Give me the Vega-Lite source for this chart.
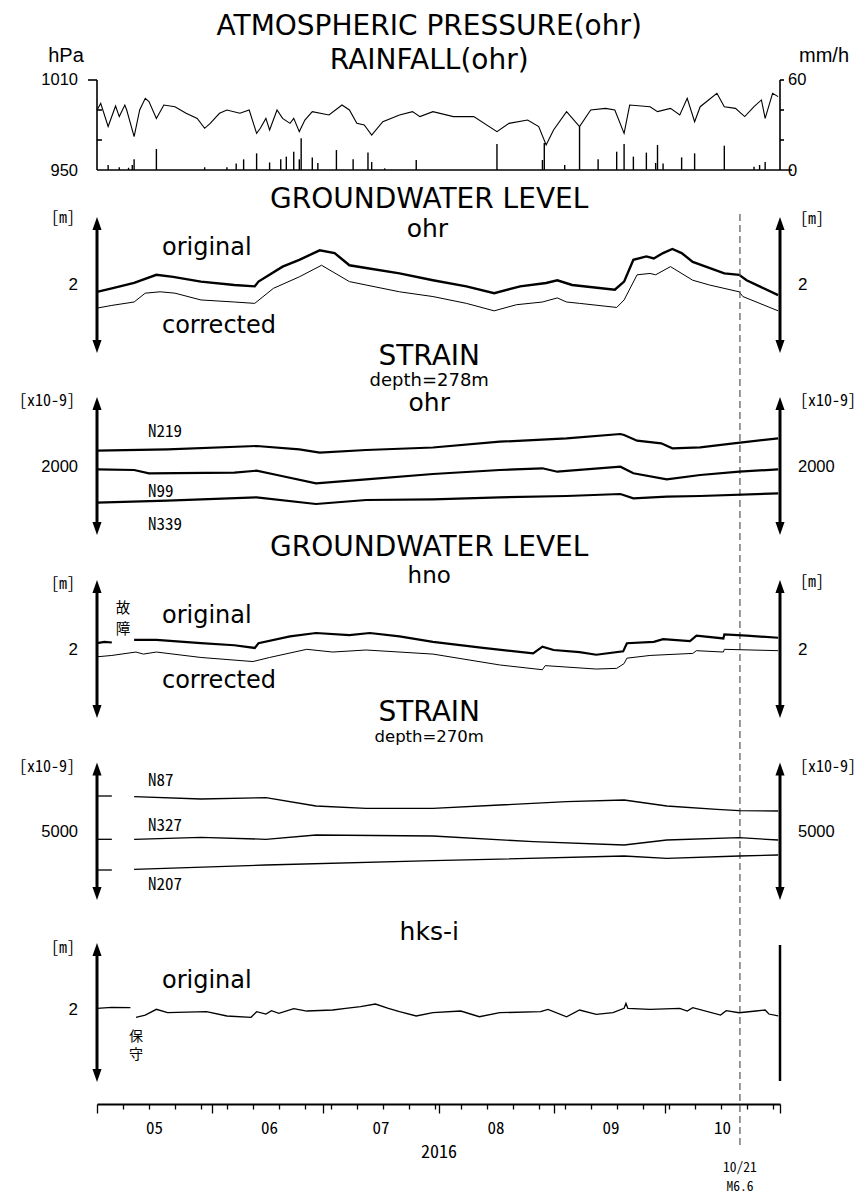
{
"$schema":"https://vega.github.io/schema/vega-lite/v6.json",
"width":683,"height":1104,
"autosize":{"type":"none"},
"padding":{"left":97,"top":0,"right":88,"bottom":90},
"background":"white",
"config":{"view":{"stroke":null}},
"datasets":{
"pres":[{"t":"2016-05-01","v":990},{"t":"2016-05-02","v":994.4},{"t":"2016-05-04","v":979},{"t":"2016-05-06","v":992.7},{"t":"2016-05-07","v":985.6},{"t":"2016-05-08T12:00:00Z","v":993.3},{"t":"2016-05-09","v":990},{"t":"2016-05-11","v":972.2},{"t":"2016-05-12T12:00:00Z","v":990},{"t":"2016-05-14","v":997.8},{"t":"2016-05-15","v":995.6},{"t":"2016-05-17","v":984.4},{"t":"2016-05-19","v":993.3},{"t":"2016-05-22","v":992.2},{"t":"2016-05-25","v":987.8},{"t":"2016-05-28","v":984.4},{"t":"2016-05-30","v":977.8},{"t":"2016-05-31T12:00:00Z","v":981.1},{"t":"2016-06-03","v":987.8},{"t":"2016-06-05","v":990},{"t":"2016-06-08T12:00:00Z","v":987.8},{"t":"2016-06-11","v":990},{"t":"2016-06-13","v":974.4},{"t":"2016-06-14","v":977.8},{"t":"2016-06-15T12:00:00Z","v":984.4},{"t":"2016-06-16T12:00:00Z","v":976.7},{"t":"2016-06-18T12:00:00Z","v":990},{"t":"2016-06-20","v":984.4},{"t":"2016-06-22","v":981.1},{"t":"2016-06-23","v":984.4},{"t":"2016-06-24T12:00:00Z","v":975.6},{"t":"2016-06-26","v":983.3},{"t":"2016-06-28","v":988.9},{"t":"2016-07-02T12:00:00Z","v":986.7},{"t":"2016-07-06","v":993.3},{"t":"2016-07-08","v":990},{"t":"2016-07-10","v":981.1},{"t":"2016-07-12","v":980},{"t":"2016-07-14","v":973.3},{"t":"2016-07-17","v":982.2},{"t":"2016-07-21T12:00:00Z","v":986.7},{"t":"2016-07-25","v":988.9},{"t":"2016-07-27","v":985.6},{"t":"2016-07-30T12:00:00Z","v":988.9},{"t":"2016-08-05","v":985.6},{"t":"2016-08-10T12:00:00Z","v":985.6},{"t":"2016-08-16T18:00:00Z","v":975.6},{"t":"2016-08-20","v":981.1},{"t":"2016-08-25","v":983.3},{"t":"2016-08-28","v":978.9},{"t":"2016-08-30","v":966.7},{"t":"2016-09-01","v":976.7},{"t":"2016-09-04T12:00:00Z","v":988.9},{"t":"2016-09-08","v":978.9},{"t":"2016-09-11","v":990},{"t":"2016-09-15","v":991.1},{"t":"2016-09-17T12:00:00Z","v":990},{"t":"2016-09-20","v":974.4},{"t":"2016-09-21T12:00:00Z","v":993.3},{"t":"2016-09-27","v":992.2},{"t":"2016-09-29","v":988.9},{"t":"2016-10-02T12:00:00Z","v":991.1},{"t":"2016-10-05","v":986.7},{"t":"2016-10-07","v":997.8},{"t":"2016-10-09","v":982.2},{"t":"2016-10-10T12:00:00Z","v":992.2},{"t":"2016-10-15","v":1001.1},{"t":"2016-10-17","v":992.2},{"t":"2016-10-20","v":991.1},{"t":"2016-10-22T12:00:00Z","v":985.6},{"t":"2016-10-25","v":992.2},{"t":"2016-10-27","v":996.7},{"t":"2016-10-28","v":984.4},{"t":"2016-10-30","v":1001.1},{"t":"2016-10-31T12:00:00Z","v":998.9}],
"rain":[{"t":"2016-05-04","v":3.3},{"t":"2016-05-07","v":1.8},{"t":"2016-05-09T12:00:00Z","v":1.5},{"t":"2016-05-10T12:00:00Z","v":3.3},{"t":"2016-05-11","v":7.1},{"t":"2016-05-17","v":14},{"t":"2016-05-30","v":1.8},{"t":"2016-06-05","v":1.8},{"t":"2016-06-07T12:00:00Z","v":4.4},{"t":"2016-06-09T12:00:00Z","v":7.1},{"t":"2016-06-13","v":11.1},{"t":"2016-06-16T12:00:00Z","v":5},{"t":"2016-06-19T12:00:00Z","v":7.1},{"t":"2016-06-21","v":8.9},{"t":"2016-06-23","v":12.2},{"t":"2016-06-24T12:00:00Z","v":7.1},{"t":"2016-06-25","v":21.1},{"t":"2016-06-28","v":8.4},{"t":"2016-06-29T12:00:00Z","v":4.7},{"t":"2016-07-04T12:00:00Z","v":13.3},{"t":"2016-07-09","v":7.1},{"t":"2016-07-13","v":11.6},{"t":"2016-07-14","v":5.3},{"t":"2016-07-17T12:00:00Z","v":1.1},{"t":"2016-07-26","v":6.7},{"t":"2016-08-16T18:00:00Z","v":17.3},{"t":"2016-08-29","v":6.7},{"t":"2016-08-29T12:00:00Z","v":18},{"t":"2016-09-04","v":3.3},{"t":"2016-09-08","v":29},{"t":"2016-09-13","v":7.1},{"t":"2016-09-18","v":12.2},{"t":"2016-09-20","v":17.3},{"t":"2016-09-22T12:00:00Z","v":8.9},{"t":"2016-09-26","v":11.6},{"t":"2016-09-28T12:00:00Z","v":4.7},{"t":"2016-09-29","v":16.7},{"t":"2016-09-30T12:00:00Z","v":4.4},{"t":"2016-10-05T12:00:00Z","v":8.4},{"t":"2016-10-09","v":11.1},{"t":"2016-10-17","v":16.2},{"t":"2016-10-25","v":2.2},{"t":"2016-10-26T12:00:00Z","v":3.3},{"t":"2016-10-28","v":5.3}],
"gw1o":[{"t":"2016-05-01","v":1.90},{"t":"2016-05-05","v":1.95},{"t":"2016-05-11","v":2.03},{"t":"2016-05-17","v":2.15},{"t":"2016-05-21T12:00:00Z","v":2.12},{"t":"2016-05-29","v":2.05},{"t":"2016-06-07","v":2.00},{"t":"2016-06-12T12:00:00Z","v":1.98},{"t":"2016-06-13T12:00:00Z","v":2.05},{"t":"2016-06-20","v":2.27},{"t":"2016-06-24T12:00:00Z","v":2.37},{"t":"2016-06-30","v":2.51},{"t":"2016-07-04","v":2.47},{"t":"2016-07-08","v":2.29},{"t":"2016-07-12T12:00:00Z","v":2.25},{"t":"2016-07-21T12:00:00Z","v":2.17},{"t":"2016-07-30T12:00:00Z","v":2.07},{"t":"2016-08-08T12:00:00Z","v":1.98},{"t":"2016-08-16","v":1.88},{"t":"2016-08-23","v":1.98},{"t":"2016-08-30","v":2.03},{"t":"2016-09-02","v":2.07},{"t":"2016-09-06","v":2.00},{"t":"2016-09-17T12:00:00Z","v":1.93},{"t":"2016-09-20","v":2.05},{"t":"2016-09-22T12:00:00Z","v":2.37},{"t":"2016-09-26","v":2.42},{"t":"2016-09-28","v":2.39},{"t":"2016-09-30T12:00:00Z","v":2.47},{"t":"2016-10-03","v":2.53},{"t":"2016-10-05T12:00:00Z","v":2.47},{"t":"2016-10-08T12:00:00Z","v":2.34},{"t":"2016-10-12","v":2.27},{"t":"2016-10-17","v":2.17},{"t":"2016-10-21","v":2.15},{"t":"2016-10-23","v":2.07},{"t":"2016-10-26T12:00:00Z","v":1.98},{"t":"2016-10-31T12:00:00Z","v":1.85}],
"gw1c":[{"t":"2016-05-01","v":1.66},{"t":"2016-05-05","v":1.70},{"t":"2016-05-11","v":1.75},{"t":"2016-05-14","v":1.88},{"t":"2016-05-18","v":1.90},{"t":"2016-05-22","v":1.88},{"t":"2016-05-29","v":1.78},{"t":"2016-06-07","v":1.75},{"t":"2016-06-12T12:00:00Z","v":1.73},{"t":"2016-06-17T12:00:00Z","v":1.95},{"t":"2016-06-24T12:00:00Z","v":2.12},{"t":"2016-06-30T12:00:00Z","v":2.29},{"t":"2016-07-08","v":2.05},{"t":"2016-07-12T12:00:00Z","v":2.00},{"t":"2016-07-21T12:00:00Z","v":1.90},{"t":"2016-07-30T12:00:00Z","v":1.83},{"t":"2016-08-08T12:00:00Z","v":1.73},{"t":"2016-08-16","v":1.62},{"t":"2016-08-22","v":1.71},{"t":"2016-08-29","v":1.75},{"t":"2016-09-02","v":1.81},{"t":"2016-09-04T12:00:00Z","v":1.75},{"t":"2016-09-08","v":1.73},{"t":"2016-09-18","v":1.67},{"t":"2016-09-20","v":1.78},{"t":"2016-09-23T12:00:00Z","v":2.15},{"t":"2016-09-27","v":2.17},{"t":"2016-09-28T12:00:00Z","v":2.15},{"t":"2016-10-02T12:00:00Z","v":2.27},{"t":"2016-10-08T12:00:00Z","v":2.07},{"t":"2016-10-13","v":2.00},{"t":"2016-10-21","v":1.90},{"t":"2016-10-22","v":1.83},{"t":"2016-10-31T12:00:00Z","v":1.62}],
"st1":[{"t":"2016-05-01","v":2163,"s":"N219"},{"t":"2016-05-20","v":2177,"s":"N219"},{"t":"2016-06-13","v":2210,"s":"N219"},{"t":"2016-06-24T12:00:00Z","v":2177,"s":"N219"},{"t":"2016-06-30","v":2143,"s":"N219"},{"t":"2016-07-12T12:00:00Z","v":2170,"s":"N219"},{"t":"2016-07-30T12:00:00Z","v":2195,"s":"N219"},{"t":"2016-08-17T12:00:00Z","v":2253,"s":"N219"},{"t":"2016-09-04T12:00:00Z","v":2287,"s":"N219"},{"t":"2016-09-19","v":2330,"s":"N219"},{"t":"2016-09-20","v":2320,"s":"N219"},{"t":"2016-09-23T12:00:00Z","v":2263,"s":"N219"},{"t":"2016-09-30","v":2237,"s":"N219"},{"t":"2016-10-03","v":2187,"s":"N219"},{"t":"2016-10-10T12:00:00Z","v":2197,"s":"N219"},{"t":"2016-10-19T12:00:00Z","v":2237,"s":"N219"},{"t":"2016-10-31T12:00:00Z","v":2287,"s":"N219"},
{"t":"2016-05-01","v":1977,"s":"N99"},{"t":"2016-05-11","v":1970,"s":"N99"},{"t":"2016-05-15","v":1937,"s":"N99"},{"t":"2016-06-07","v":1943,"s":"N99"},{"t":"2016-06-13","v":1963,"s":"N99"},{"t":"2016-06-18T12:00:00Z","v":1920,"s":"N99"},{"t":"2016-06-29","v":1837,"s":"N99"},{"t":"2016-07-12T12:00:00Z","v":1877,"s":"N99"},{"t":"2016-07-30T12:00:00Z","v":1930,"s":"N99"},{"t":"2016-08-17T12:00:00Z","v":1970,"s":"N99"},{"t":"2016-08-29","v":1987,"s":"N99"},{"t":"2016-09-02","v":1953,"s":"N99"},{"t":"2016-09-19","v":2003,"s":"N99"},{"t":"2016-09-22T12:00:00Z","v":1937,"s":"N99"},{"t":"2016-10-01T12:00:00Z","v":1877,"s":"N99"},{"t":"2016-10-10T12:00:00Z","v":1920,"s":"N99"},{"t":"2016-10-21","v":1953,"s":"N99"},{"t":"2016-10-31T12:00:00Z","v":1977,"s":"N99"},
{"t":"2016-05-01","v":1643,"s":"N339"},{"t":"2016-05-20","v":1663,"s":"N339"},{"t":"2016-06-13","v":1697,"s":"N339"},{"t":"2016-06-29","v":1630,"s":"N339"},{"t":"2016-07-12T12:00:00Z","v":1670,"s":"N339"},{"t":"2016-07-30T12:00:00Z","v":1677,"s":"N339"},{"t":"2016-08-17T12:00:00Z","v":1697,"s":"N339"},{"t":"2016-09-04T12:00:00Z","v":1710,"s":"N339"},{"t":"2016-09-19","v":1730,"s":"N339"},{"t":"2016-09-22T12:00:00Z","v":1687,"s":"N339"},{"t":"2016-10-01T12:00:00Z","v":1703,"s":"N339"},{"t":"2016-10-10T12:00:00Z","v":1710,"s":"N339"},{"t":"2016-10-31T12:00:00Z","v":1737,"s":"N339"}],
"gw2o":[{"t":"2016-05-01","v":2.10,"s":"a"},{"t":"2016-05-03","v":2.12,"s":"a"},{"t":"2016-05-05","v":2.11,"s":"a"},
{"t":"2016-05-11","v":2.15,"s":"b"},{"t":"2016-05-17","v":2.15,"s":"b"},{"t":"2016-05-29","v":2.10,"s":"b"},{"t":"2016-06-07","v":2.07,"s":"b"},{"t":"2016-06-12T12:00:00Z","v":2.03,"s":"b"},{"t":"2016-06-13T12:00:00Z","v":2.10,"s":"b"},{"t":"2016-06-22","v":2.20,"s":"b"},{"t":"2016-06-29","v":2.25,"s":"b"},{"t":"2016-07-08","v":2.22,"s":"b"},{"t":"2016-07-13T12:00:00Z","v":2.25,"s":"b"},{"t":"2016-07-21T12:00:00Z","v":2.20,"s":"b"},{"t":"2016-07-30T12:00:00Z","v":2.12,"s":"b"},{"t":"2016-08-13","v":2.03,"s":"b"},{"t":"2016-08-26T12:00:00Z","v":1.95,"s":"b"},{"t":"2016-08-29","v":2.05,"s":"b"},{"t":"2016-09-01","v":2.00,"s":"b"},{"t":"2016-09-08","v":1.97,"s":"b"},{"t":"2016-09-12T12:00:00Z","v":1.93,"s":"b"},{"t":"2016-09-19T18:00:00Z","v":1.98,"s":"b"},{"t":"2016-09-20T18:00:00Z","v":2.10,"s":"b"},{"t":"2016-09-28","v":2.12,"s":"b"},{"t":"2016-09-30T12:00:00Z","v":2.16,"s":"b"},{"t":"2016-10-07T18:00:00Z","v":2.13,"s":"b"},{"t":"2016-10-09T12:00:00Z","v":2.21,"s":"b"},{"t":"2016-10-16T18:00:00Z","v":2.17,"s":"b"},{"t":"2016-10-17","v":2.23,"s":"b"},{"t":"2016-10-23","v":2.21,"s":"b"},{"t":"2016-10-31T12:00:00Z","v":2.18,"s":"b"}],
"gw2c":[{"t":"2016-05-01","v":1.90},{"t":"2016-05-05","v":1.92},{"t":"2016-05-11T12:00:00Z","v":1.97},{"t":"2016-05-13T12:00:00Z","v":1.94},{"t":"2016-05-17","v":1.97},{"t":"2016-05-29","v":1.89},{"t":"2016-06-12","v":1.83},{"t":"2016-06-16T12:00:00Z","v":1.89},{"t":"2016-06-26T12:00:00Z","v":2.01},{"t":"2016-07-03T12:00:00Z","v":1.97},{"t":"2016-07-12T12:00:00Z","v":2.00},{"t":"2016-07-30T12:00:00Z","v":1.94},{"t":"2016-08-17T12:00:00Z","v":1.78},{"t":"2016-08-29","v":1.71},{"t":"2016-08-29T18:00:00Z","v":1.77},{"t":"2016-09-12T12:00:00Z","v":1.72},{"t":"2016-09-18","v":1.73},{"t":"2016-09-20","v":1.80},{"t":"2016-09-20T18:00:00Z","v":1.88},{"t":"2016-09-27","v":1.92},{"t":"2016-10-08T12:00:00Z","v":1.95},{"t":"2016-10-09T12:00:00Z","v":1.99},{"t":"2016-10-16T18:00:00Z","v":1.97},{"t":"2016-10-17","v":2.01},{"t":"2016-10-31T12:00:00Z","v":1.99}],
"st2":[{"t":"2016-05-01","v":5720,"s":"N87a"},{"t":"2016-05-05","v":5720,"s":"N87a"},
{"t":"2016-05-11","v":5706,"s":"N87b"},{"t":"2016-05-29","v":5660,"s":"N87b"},{"t":"2016-06-15T12:00:00Z","v":5686,"s":"N87b"},{"t":"2016-06-29","v":5520,"s":"N87b"},{"t":"2016-07-12T12:00:00Z","v":5474,"s":"N87b"},{"t":"2016-07-30T12:00:00Z","v":5474,"s":"N87b"},{"t":"2016-08-17T12:00:00Z","v":5540,"s":"N87b"},{"t":"2016-09-04T12:00:00Z","v":5606,"s":"N87b"},{"t":"2016-09-20","v":5640,"s":"N87b"},{"t":"2016-10-01T12:00:00Z","v":5520,"s":"N87b"},{"t":"2016-10-15","v":5454,"s":"N87b"},{"t":"2016-10-21","v":5426,"s":"N87b"},{"t":"2016-10-31T12:00:00Z","v":5420,"s":"N87b"},
{"t":"2016-05-01","v":4854,"s":"N327a"},{"t":"2016-05-05","v":4854,"s":"N327a"},
{"t":"2016-05-11","v":4854,"s":"N327b"},{"t":"2016-05-29","v":4894,"s":"N327b"},{"t":"2016-06-15T12:00:00Z","v":4854,"s":"N327b"},{"t":"2016-06-29","v":4940,"s":"N327b"},{"t":"2016-07-30T12:00:00Z","v":4920,"s":"N327b"},{"t":"2016-08-26T12:00:00Z","v":4806,"s":"N327b"},{"t":"2016-09-20","v":4740,"s":"N327b"},{"t":"2016-10-01T12:00:00Z","v":4840,"s":"N327b"},{"t":"2016-10-21","v":4886,"s":"N327b"},{"t":"2016-10-31T12:00:00Z","v":4840,"s":"N327b"},
{"t":"2016-05-01","v":4240,"s":"N207a"},{"t":"2016-05-05","v":4240,"s":"N207a"},
{"t":"2016-05-11","v":4254,"s":"N207b"},{"t":"2016-06-15T12:00:00Z","v":4340,"s":"N207b"},{"t":"2016-07-30T12:00:00Z","v":4426,"s":"N207b"},{"t":"2016-09-20","v":4520,"s":"N207b"},{"t":"2016-10-01T12:00:00Z","v":4474,"s":"N207b"},{"t":"2016-10-21","v":4520,"s":"N207b"},{"t":"2016-10-31T12:00:00Z","v":4540,"s":"N207b"}],
"hks":[{"t":"2016-05-01","v":2.025,"s":"a"},{"t":"2016-05-05","v":2.040,"s":"a"},{"t":"2016-05-10","v":2.034,"s":"a"},
{"t":"2016-05-11T12:00:00Z","v":1.893,"s":"b"},{"t":"2016-05-14","v":1.926,"s":"b"},{"t":"2016-05-17","v":2.010,"s":"b"},{"t":"2016-05-20","v":1.960,"s":"b"},{"t":"2016-05-30T12:00:00Z","v":1.975,"s":"b"},{"t":"2016-06-05","v":1.912,"s":"b"},{"t":"2016-06-11T12:00:00Z","v":1.893,"s":"b"},{"t":"2016-06-13","v":1.975,"s":"b"},{"t":"2016-06-15T12:00:00Z","v":1.941,"s":"b"},{"t":"2016-06-17","v":1.990,"s":"b"},{"t":"2016-06-19","v":1.951,"s":"b"},{"t":"2016-06-23","v":2.019,"s":"b"},{"t":"2016-06-26T12:00:00Z","v":1.985,"s":"b"},{"t":"2016-07-03T12:00:00Z","v":2.0,"s":"b"},{"t":"2016-07-07","v":2.025,"s":"b"},{"t":"2016-07-11","v":2.049,"s":"b"},{"t":"2016-07-15","v":2.088,"s":"b"},{"t":"2016-07-18T12:00:00Z","v":2.025,"s":"b"},{"t":"2016-07-21T12:00:00Z","v":1.975,"s":"b"},{"t":"2016-07-26","v":1.912,"s":"b"},{"t":"2016-07-30T12:00:00Z","v":1.960,"s":"b"},{"t":"2016-08-07","v":1.985,"s":"b"},{"t":"2016-08-12","v":1.901,"s":"b"},{"t":"2016-08-17T12:00:00Z","v":1.960,"s":"b"},{"t":"2016-08-28T12:00:00Z","v":1.975,"s":"b"},{"t":"2016-08-30T12:00:00Z","v":2.010,"s":"b"},{"t":"2016-09-04T12:00:00Z","v":1.901,"s":"b"},{"t":"2016-09-08","v":2.0,"s":"b"},{"t":"2016-09-12T12:00:00Z","v":1.937,"s":"b"},{"t":"2016-09-17","v":1.960,"s":"b"},{"t":"2016-09-20","v":2.025,"s":"b"},{"t":"2016-09-20T12:00:00Z","v":2.099,"s":"b"},{"t":"2016-09-21","v":2.025,"s":"b"},{"t":"2016-09-27","v":2.010,"s":"b"},{"t":"2016-10-05","v":2.025,"s":"b"},{"t":"2016-10-07","v":1.985,"s":"b"},{"t":"2016-10-08T12:00:00Z","v":2.034,"s":"b"},{"t":"2016-10-16","v":1.926,"s":"b"},{"t":"2016-10-17T12:00:00Z","v":1.990,"s":"b"},{"t":"2016-10-21","v":1.960,"s":"b"},{"t":"2016-10-25T12:00:00Z","v":1.985,"s":"b"},{"t":"2016-10-28","v":2.0,"s":"b"},{"t":"2016-10-29","v":1.941,"s":"b"},{"t":"2016-10-31T12:00:00Z","v":1.912,"s":"b"}],
"edges":[{"t":"2016-05-01"},{"t":"2016-11-01"}],
"pticks":[{"t":"2016-04-28T14:00:00Z","t2":"2016-05-01","v":1010},{"t":"2016-05-01","t2":"2016-05-02T08:00:00Z","v":990},{"t":"2016-05-01","t2":"2016-05-02T08:00:00Z","v":970},{"t":"2016-11-01","t2":"2016-11-02T02:00:00Z","v":1010},{"t":"2016-11-01","t2":"2016-11-02T02:00:00Z","v":990},{"t":"2016-11-01","t2":"2016-11-02T02:00:00Z","v":970},{"t":"2016-05-01","t2":"2016-11-04T06:00:00Z","v":950}]
},
"encoding":{"x":{"field":"t","type":"temporal",
 "scale":{"type":"utc","domain":["2016-05-01","2016-11-01"]},
 "axis":{"title":"2016","titleFont":"Noto Sans Mono CJK JP","titleFontSize":18,"titleFontWeight":"normal","titleColor":"black","titlePadding":7,
  "values":[{"year":2016,"month":5,"date":1,"utc":true},{"year":2016,"month":5,"date":8,"utc":true},{"year":2016,"month":5,"date":15,"utc":true},{"year":2016,"month":5,"date":22,"utc":true},{"year":2016,"month":5,"date":29,"utc":true},{"year":2016,"month":6,"date":1,"utc":true},{"year":2016,"month":6,"date":5,"utc":true},{"year":2016,"month":6,"date":12,"utc":true},{"year":2016,"month":6,"date":19,"utc":true},{"year":2016,"month":6,"date":26,"utc":true},{"year":2016,"month":7,"date":1,"utc":true},{"year":2016,"month":7,"date":3,"utc":true},{"year":2016,"month":7,"date":10,"utc":true},{"year":2016,"month":7,"date":17,"utc":true},{"year":2016,"month":7,"date":24,"utc":true},{"year":2016,"month":7,"date":31,"utc":true},{"year":2016,"month":8,"date":1,"utc":true},{"year":2016,"month":8,"date":7,"utc":true},{"year":2016,"month":8,"date":14,"utc":true},{"year":2016,"month":8,"date":21,"utc":true},{"year":2016,"month":8,"date":28,"utc":true},{"year":2016,"month":9,"date":1,"utc":true},{"year":2016,"month":9,"date":4,"utc":true},{"year":2016,"month":9,"date":11,"utc":true},{"year":2016,"month":9,"date":18,"utc":true},{"year":2016,"month":9,"date":25,"utc":true},{"year":2016,"month":10,"date":1,"utc":true},{"year":2016,"month":10,"date":2,"utc":true},{"year":2016,"month":10,"date":9,"utc":true},{"year":2016,"month":10,"date":16,"utc":true},{"year":2016,"month":10,"date":23,"utc":true},{"year":2016,"month":10,"date":30,"utc":true},{"year":2016,"month":11,"date":1,"utc":true}],
  "labelExpr":"utcdate(datum.value) == 1 && utcmonth(datum.value) < 10 ? utcFormat(datum.value, '%m') : ''",
  "labelOffset":57,"labelFont":"Noto Sans Mono CJK JP","labelFontSize":17,"labelColor":"black","labelPadding":7,"labelOverlap":false,"labelBound":false,"labelFlush":false,"labelAngle":0,
  "domainColor":"black","domainWidth":2,"tickColor":"black","tickWidth":1.3,
  "tickSize":{"condition":{"test":"utcdate(datum.value) == 1","value":9},"value":5},
  "grid":false}}},
"layer":[
{"encoding":{"y":{"type":"quantitative","scale":{"domain":[327.333,1063.333],"nice":false,"zero":false},"axis":null}},
 "layer":[
  {"data":{"name":"pres"},"mark":{"type":"line","color":"black","strokeWidth":1.1},"encoding":{"y":{"field":"v"}}},
  {"data":{"name":"edges"},"mark":{"type":"rule","color":"black","strokeWidth":1.6},"encoding":{"y":{"datum":950},"y2":{"datum":1010}}},
  {"data":{"name":"pticks"},"mark":{"type":"rule","color":"black","strokeWidth":1.6},"encoding":{"y":{"field":"v"},"x2":{"field":"t2"}}},
  {"data":{"values":[{"t":"2016-07-29T12:00:00Z"}]},"mark":{"type":"text","text":"ATMOSPHERIC PRESSURE(ohr)","font":"DejaVu Sans","fontSize":28,"align":"center","baseline":"alphabetic","color":"black"},"encoding":{"y":{"datum":1040}}},
  {"data":{"values":[{"t":"2016-07-29T12:00:00Z"}]},"mark":{"type":"text","text":"RAINFALL(ohr)","font":"DejaVu Sans","fontSize":28,"align":"center","baseline":"alphabetic","color":"black"},"encoding":{"y":{"datum":1017}}},
  {"data":{"values":[{"t":"2016-05-01"}]},"mark":{"type":"text","text":"hPa","font":"Liberation Sans","fontSize":20,"align":"center","baseline":"alphabetic","dx":-31,"color":"black"},"encoding":{"y":{"datum":1022}}},
  {"data":{"values":[{"t":"2016-05-01"}]},"mark":{"type":"text","text":"1010","font":"Liberation Sans","fontSize":16.5,"align":"right","baseline":"middle","dx":-19,"color":"black"},"encoding":{"y":{"datum":1010}}},
  {"data":{"values":[{"t":"2016-05-01"}]},"mark":{"type":"text","text":"950","font":"Liberation Sans","fontSize":16.5,"align":"right","baseline":"middle","dx":-19,"color":"black"},"encoding":{"y":{"datum":949}}}
 ]},
{"encoding":{"y":{"type":"quantitative","scale":{"domain":[-622.667,113.333],"nice":false,"zero":false},"axis":null}},
 "layer":[
  {"data":{"name":"rain"},"mark":{"type":"rule","color":"black","strokeWidth":1.4},"encoding":{"y":{"field":"v"},"y2":{"datum":0}}},
  {"data":{"values":[{"t":"2016-11-01"}]},"mark":{"type":"text","text":"60","font":"Liberation Sans","fontSize":16.5,"align":"left","baseline":"middle","dx":8,"color":"black"},"encoding":{"y":{"datum":60}}},
  {"data":{"values":[{"t":"2016-11-01"}]},"mark":{"type":"text","text":"0","font":"Liberation Sans","fontSize":16.5,"align":"left","baseline":"middle","dx":8,"color":"black"},"encoding":{"y":{"datum":-1}}},
  {"data":{"values":[{"t":"2016-11-01"}]},"mark":{"type":"text","text":"mm/h","font":"Liberation Sans","fontSize":20,"align":"center","baseline":"alphabetic","dx":44,"color":"black"},"encoding":{"y":{"datum":72}}}
 ]},
{"encoding":{"y":{"type":"quantitative","scale":{"domain":[-10.04412,6.19118],"nice":false,"zero":false},"axis":null}},
 "layer":[
  {"data":{"name":"gw1o"},"mark":{"type":"line","color":"black","strokeWidth":2.4},"encoding":{"y":{"field":"v"}}},
  {"data":{"name":"gw1c"},"mark":{"type":"line","color":"black","strokeWidth":1},"encoding":{"y":{"field":"v"}}},
  {"data":{"name":"edges"},"mark":{"type":"rule","color":"black","strokeWidth":3},"encoding":{"y":{"datum":1.09},"y2":{"datum":2.91}}},
  {"data":{"name":"edges"},"mark":{"type":"point","shape":"M0,0L0.7,2L-0.7,2Z","filled":true,"size":169,"color":"black","opacity":1,"strokeWidth":0},"encoding":{"y":{"datum":3.0}}},
  {"data":{"name":"edges"},"mark":{"type":"point","shape":"M0,0L0.7,-2L-0.7,-2Z","filled":true,"size":169,"color":"black","opacity":1,"strokeWidth":0},"encoding":{"y":{"datum":1.0}}},
  {"data":{"values":[{"t":"2016-07-29T12:00:00Z"}]},"mark":{"type":"text","text":"GROUNDWATER LEVEL","font":"DejaVu Sans","fontSize":28,"align":"center","baseline":"alphabetic","color":"black"},"encoding":{"y":{"datum":3.132}}},
  {"data":{"values":[{"t":"2016-07-29T00:00:00Z"}]},"mark":{"type":"text","text":"ohr","font":"DejaVu Sans","fontSize":25,"align":"center","baseline":"alphabetic","color":"black"},"encoding":{"y":{"datum":2.706}}},
  {"data":{"values":[{"t":"2016-05-01"}]},"mark":{"type":"text","text":"[m]","font":"Noto Sans Mono CJK JP","fontSize":16,"align":"right","baseline":"middle","dx":-22,"color":"black"},"encoding":{"y":{"datum":2.985}}},
  {"data":{"values":[{"t":"2016-11-01"}]},"mark":{"type":"text","text":"[m]","font":"Noto Sans Mono CJK JP","fontSize":16,"align":"left","baseline":"middle","dx":20,"color":"black"},"encoding":{"y":{"datum":2.97}}},
  {"data":{"values":[{"t":"2016-05-01"}]},"mark":{"type":"text","text":"2","font":"Liberation Sans","fontSize":17,"align":"right","baseline":"middle","dx":-19,"color":"black"},"encoding":{"y":{"datum":2}}},
  {"data":{"values":[{"t":"2016-11-01"}]},"mark":{"type":"text","text":"2","font":"Liberation Sans","fontSize":17,"align":"left","baseline":"middle","dx":18,"color":"black"},"encoding":{"y":{"datum":2}}},
  {"data":{"values":[{"t":"2016-05-18T12:00:00Z"}]},"mark":{"type":"text","text":"original","font":"DejaVu Sans","fontSize":24,"align":"left","baseline":"alphabetic","color":"black"},"encoding":{"y":{"datum":2.441}}},
  {"data":{"values":[{"t":"2016-05-18T12:00:00Z"}]},"mark":{"type":"text","text":"corrected","font":"DejaVu Sans","fontSize":24,"align":"left","baseline":"alphabetic","color":"black"},"encoding":{"y":{"datum":1.294}}},
  {"data":{"values":[{"t":"2016-10-21T05:00:00Z"}]},"mark":{"type":"rule","color":"#555555","strokeWidth":1.2,"strokeDash":[7,4]},"encoding":{"y":{"datum":3.044},"y2":{"datum":-10.69}}}
 ]},
{"encoding":{"y":{"type":"quantitative","scale":{"domain":[-4370,6670],"nice":false,"zero":false},"axis":null}},
 "layer":[
  {"data":{"name":"st1"},"mark":{"type":"line","color":"black","strokeWidth":2.2},"encoding":{"y":{"field":"v"},"detail":{"field":"s"}}},
  {"data":{"name":"edges"},"mark":{"type":"rule","color":"black","strokeWidth":3},"encoding":{"y":{"datum":1380},"y2":{"datum":2640}}},
  {"data":{"name":"edges"},"mark":{"type":"point","shape":"M0,0L0.7,2L-0.7,2Z","filled":true,"size":169,"color":"black","opacity":1,"strokeWidth":0},"encoding":{"y":{"datum":2700}}},
  {"data":{"name":"edges"},"mark":{"type":"point","shape":"M0,0L0.7,-2L-0.7,-2Z","filled":true,"size":169,"color":"black","opacity":1,"strokeWidth":0},"encoding":{"y":{"datum":1320}}},
  {"data":{"values":[{"t":"2016-07-29T12:00:00Z"}]},"mark":{"type":"text","text":"STRAIN","font":"DejaVu Sans","fontSize":28,"align":"center","baseline":"alphabetic","color":"black"},"encoding":{"y":{"datum":3020}}},
  {"data":{"values":[{"t":"2016-07-29T12:00:00Z"}]},"mark":{"type":"text","text":"depth=278m","font":"DejaVu Sans","fontSize":18,"align":"center","baseline":"alphabetic","color":"black"},"encoding":{"y":{"datum":2810}}},
  {"data":{"values":[{"t":"2016-07-29T12:00:00Z"}]},"mark":{"type":"text","text":"ohr","font":"DejaVu Sans","fontSize":25,"align":"center","baseline":"alphabetic","color":"black"},"encoding":{"y":{"datum":2560}}},
  {"data":{"values":[{"t":"2016-05-01"}]},"mark":{"type":"text","text":"[x10-9]","font":"Noto Sans Mono CJK JP","fontSize":16,"align":"right","baseline":"middle","dx":-22,"color":"black"},"encoding":{"y":{"datum":2660}}},
  {"data":{"values":[{"t":"2016-11-01"}]},"mark":{"type":"text","text":"[x10-9]","font":"Noto Sans Mono CJK JP","fontSize":16,"align":"left","baseline":"middle","dx":20,"color":"black"},"encoding":{"y":{"datum":2660}}},
  {"data":{"values":[{"t":"2016-05-01"}]},"mark":{"type":"text","text":"2000","font":"Liberation Sans","fontSize":16.5,"align":"right","baseline":"middle","dx":-19,"color":"black"},"encoding":{"y":{"datum":2000}}},
  {"data":{"values":[{"t":"2016-11-01"}]},"mark":{"type":"text","text":"2000","font":"Liberation Sans","fontSize":16.5,"align":"left","baseline":"middle","dx":18,"color":"black"},"encoding":{"y":{"datum":2000}}},
  {"data":{"values":[{"t":"2016-05-14T18:00:00Z"}]},"mark":{"type":"text","text":"N219","font":"Noto Sans Mono CJK JP","fontSize":17,"align":"left","baseline":"alphabetic","color":"black"},"encoding":{"y":{"datum":2300}}},
  {"data":{"values":[{"t":"2016-05-14T18:00:00Z"}]},"mark":{"type":"text","text":"N99","font":"Noto Sans Mono CJK JP","fontSize":17,"align":"left","baseline":"alphabetic","color":"black"},"encoding":{"y":{"datum":1700}}},
  {"data":{"values":[{"t":"2016-05-14T18:00:00Z"}]},"mark":{"type":"text","text":"N339","font":"Noto Sans Mono CJK JP","fontSize":17,"align":"left","baseline":"alphabetic","color":"black"},"encoding":{"y":{"datum":1370}}}
 ]},
{"encoding":{"y":{"type":"quantitative","scale":{"domain":[-4.67647,11.55882],"nice":false,"zero":false},"axis":null}},
 "layer":[
  {"data":{"name":"gw2o"},"mark":{"type":"line","color":"black","strokeWidth":2.2},"encoding":{"y":{"field":"v"},"detail":{"field":"s"}}},
  {"data":{"name":"gw2c"},"mark":{"type":"line","color":"black","strokeWidth":1},"encoding":{"y":{"field":"v"}}},
  {"data":{"name":"edges"},"mark":{"type":"rule","color":"black","strokeWidth":3},"encoding":{"y":{"datum":1.09},"y2":{"datum":2.94}}},
  {"data":{"name":"edges"},"mark":{"type":"point","shape":"M0,0L0.7,2L-0.7,2Z","filled":true,"size":169,"color":"black","opacity":1,"strokeWidth":0},"encoding":{"y":{"datum":3.03}}},
  {"data":{"name":"edges"},"mark":{"type":"point","shape":"M0,0L0.7,-2L-0.7,-2Z","filled":true,"size":169,"color":"black","opacity":1,"strokeWidth":0},"encoding":{"y":{"datum":1.0}}},
  {"data":{"values":[{"t":"2016-07-29T12:00:00Z"}]},"mark":{"type":"text","text":"GROUNDWATER LEVEL","font":"DejaVu Sans","fontSize":28,"align":"center","baseline":"alphabetic","color":"black"},"encoding":{"y":{"datum":3.38}}},
  {"data":{"values":[{"t":"2016-07-29T12:00:00Z"}]},"mark":{"type":"text","text":"hno","font":"DejaVu Sans","fontSize":23,"align":"center","baseline":"alphabetic","color":"black"},"encoding":{"y":{"datum":2.985}}},
  {"data":{"values":[{"t":"2016-05-01"}]},"mark":{"type":"text","text":"[m]","font":"Noto Sans Mono CJK JP","fontSize":16,"align":"right","baseline":"middle","dx":-22,"color":"black"},"encoding":{"y":{"datum":2.971}}},
  {"data":{"values":[{"t":"2016-11-01"}]},"mark":{"type":"text","text":"[m]","font":"Noto Sans Mono CJK JP","fontSize":16,"align":"left","baseline":"middle","dx":20,"color":"black"},"encoding":{"y":{"datum":2.993}}},
  {"data":{"values":[{"t":"2016-05-01"}]},"mark":{"type":"text","text":"2","font":"Liberation Sans","fontSize":17,"align":"right","baseline":"middle","dx":-19,"color":"black"},"encoding":{"y":{"datum":2}}},
  {"data":{"values":[{"t":"2016-11-01"}]},"mark":{"type":"text","text":"2","font":"Liberation Sans","fontSize":17,"align":"left","baseline":"middle","dx":18,"color":"black"},"encoding":{"y":{"datum":2}}},
  {"data":{"values":[{"t":"2016-05-18T12:00:00Z"}]},"mark":{"type":"text","text":"original","font":"DejaVu Sans","fontSize":24,"align":"left","baseline":"alphabetic","color":"black"},"encoding":{"y":{"datum":2.392}}},
  {"data":{"values":[{"t":"2016-05-18T12:00:00Z"}]},"mark":{"type":"text","text":"corrected","font":"DejaVu Sans","fontSize":24,"align":"left","baseline":"alphabetic","color":"black"},"encoding":{"y":{"datum":1.437}}},
  {"data":{"values":[{"t":"2016-05-08"}]},"mark":{"type":"text","text":"故","font":"Noto Sans CJK JP","fontSize":14.5,"align":"center","baseline":"alphabetic","color":"black"},"encoding":{"y":{"datum":2.55}}},
  {"data":{"values":[{"t":"2016-05-08"}]},"mark":{"type":"text","text":"障","font":"Noto Sans CJK JP","fontSize":14.5,"align":"center","baseline":"alphabetic","color":"black"},"encoding":{"y":{"datum":2.235}}}
 ]},
{"encoding":{"y":{"type":"quantitative","scale":{"domain":[-440,21640],"nice":false,"zero":false},"axis":null}},
 "layer":[
  {"data":{"name":"st2"},"mark":{"type":"line","color":"black","strokeWidth":1.3},"encoding":{"y":{"field":"v"},"detail":{"field":"s"}}},
  {"data":{"name":"edges"},"mark":{"type":"rule","color":"black","strokeWidth":3},"encoding":{"y":{"datum":3760},"y2":{"datum":6270}}},
  {"data":{"name":"edges"},"mark":{"type":"point","shape":"M0,0L0.7,2L-0.7,2Z","filled":true,"size":169,"color":"black","opacity":1,"strokeWidth":0},"encoding":{"y":{"datum":6390}}},
  {"data":{"name":"edges"},"mark":{"type":"point","shape":"M0,0L0.7,-2L-0.7,-2Z","filled":true,"size":169,"color":"black","opacity":1,"strokeWidth":0},"encoding":{"y":{"datum":3640}}},
  {"data":{"values":[{"t":"2016-07-29T12:00:00Z"}]},"mark":{"type":"text","text":"STRAIN","font":"DejaVu Sans","fontSize":28,"align":"center","baseline":"alphabetic","color":"black"},"encoding":{"y":{"datum":7220}}},
  {"data":{"values":[{"t":"2016-07-29T12:00:00Z"}]},"mark":{"type":"text","text":"depth=270m","font":"DejaVu Sans","fontSize":16.5,"align":"center","baseline":"alphabetic","color":"black"},"encoding":{"y":{"datum":6800}}},
  {"data":{"values":[{"t":"2016-05-01"}]},"mark":{"type":"text","text":"[x10-9]","font":"Noto Sans Mono CJK JP","fontSize":16,"align":"right","baseline":"middle","dx":-22,"color":"black"},"encoding":{"y":{"datum":6300}}},
  {"data":{"values":[{"t":"2016-11-01"}]},"mark":{"type":"text","text":"[x10-9]","font":"Noto Sans Mono CJK JP","fontSize":16,"align":"left","baseline":"middle","dx":20,"color":"black"},"encoding":{"y":{"datum":6300}}},
  {"data":{"values":[{"t":"2016-05-01"}]},"mark":{"type":"text","text":"5000","font":"Liberation Sans","fontSize":16.5,"align":"right","baseline":"middle","dx":-19,"color":"black"},"encoding":{"y":{"datum":5000}}},
  {"data":{"values":[{"t":"2016-11-01"}]},"mark":{"type":"text","text":"5000","font":"Liberation Sans","fontSize":16.5,"align":"left","baseline":"middle","dx":18,"color":"black"},"encoding":{"y":{"datum":5000}}},
  {"data":{"values":[{"t":"2016-05-14T18:00:00Z"}]},"mark":{"type":"text","text":"N87","font":"Noto Sans Mono CJK JP","fontSize":17,"align":"left","baseline":"alphabetic","color":"black"},"encoding":{"y":{"datum":5920}}},
  {"data":{"values":[{"t":"2016-05-14T18:00:00Z"}]},"mark":{"type":"text","text":"N327","font":"Noto Sans Mono CJK JP","fontSize":17,"align":"left","baseline":"alphabetic","color":"black"},"encoding":{"y":{"datum":5030}}},
  {"data":{"values":[{"t":"2016-05-14T18:00:00Z"}]},"mark":{"type":"text","text":"N207","font":"Noto Sans Mono CJK JP","fontSize":17,"align":"left","baseline":"alphabetic","color":"black"},"encoding":{"y":{"datum":3840}}}
 ]},
{"encoding":{"y":{"type":"quantitative","scale":{"domain":[0.61765,16.85294],"nice":false,"zero":false},"axis":null}},
 "layer":[
  {"data":{"name":"hks"},"mark":{"type":"line","color":"black","strokeWidth":1.3},"encoding":{"y":{"field":"v"},"detail":{"field":"s"}}},
  {"data":{"values":[{"t":"2016-05-01"}]},"mark":{"type":"rule","color":"black","strokeWidth":3},"encoding":{"y":{"datum":1.03},"y2":{"datum":2.897}}},
  {"data":{"values":[{"t":"2016-05-01"}]},"mark":{"type":"point","shape":"M0,0L0.7,2L-0.7,2Z","filled":true,"size":169,"color":"black","opacity":1,"strokeWidth":0},"encoding":{"y":{"datum":2.985}}},
  {"data":{"values":[{"t":"2016-05-01"}]},"mark":{"type":"point","shape":"M0,0L0.7,-2L-0.7,-2Z","filled":true,"size":169,"color":"black","opacity":1,"strokeWidth":0},"encoding":{"y":{"datum":0.941}}},
  {"data":{"values":[{"t":"2016-11-01"}]},"mark":{"type":"rule","color":"black","strokeWidth":2.5},"encoding":{"y":{"datum":0.956},"y2":{"datum":2.956}}},
  {"data":{"values":[{"t":"2016-07-29T12:00:00Z"}]},"mark":{"type":"text","text":"hks-i","font":"DejaVu Sans","fontSize":25,"align":"center","baseline":"alphabetic","color":"black"},"encoding":{"y":{"datum":3.029}}},
  {"data":{"values":[{"t":"2016-05-01"}]},"mark":{"type":"text","text":"[m]","font":"Noto Sans Mono CJK JP","fontSize":16,"align":"right","baseline":"middle","dx":-22,"color":"black"},"encoding":{"y":{"datum":2.907}}},
  {"data":{"values":[{"t":"2016-05-01"}]},"mark":{"type":"text","text":"2","font":"Liberation Sans","fontSize":17,"align":"right","baseline":"middle","dx":-19,"color":"black"},"encoding":{"y":{"datum":2}}},
  {"data":{"values":[{"t":"2016-05-18T12:00:00Z"}]},"mark":{"type":"text","text":"original","font":"DejaVu Sans","fontSize":24,"align":"left","baseline":"alphabetic","color":"black"},"encoding":{"y":{"datum":2.319}}},
  {"data":{"values":[{"t":"2016-05-11T12:00:00Z"}]},"mark":{"type":"text","text":"保","font":"Noto Sans CJK JP","fontSize":14,"align":"center","baseline":"alphabetic","color":"black"},"encoding":{"y":{"datum":1.545}}},
  {"data":{"values":[{"t":"2016-05-11T12:00:00Z"}]},"mark":{"type":"text","text":"守","font":"Noto Sans CJK JP","fontSize":14,"align":"center","baseline":"alphabetic","color":"black"},"encoding":{"y":{"datum":1.28}}},
  {"data":{"values":[{"t":"2016-10-21T05:00:00Z"}]},"mark":{"type":"text","text":"10/21","font":"Noto Sans Mono CJK JP","fontSize":13.5,"align":"center","baseline":"alphabetic","color":"black"},"encoding":{"y":{"datum":-0.385}}},
  {"data":{"values":[{"t":"2016-10-21T05:00:00Z"}]},"mark":{"type":"text","text":"M6.6","font":"Noto Sans Mono CJK JP","fontSize":13.5,"align":"center","baseline":"alphabetic","color":"black"},"encoding":{"y":{"datum":-0.66}}}
 ]}
],
"resolve":{"scale":{"y":"independent"}}
}
